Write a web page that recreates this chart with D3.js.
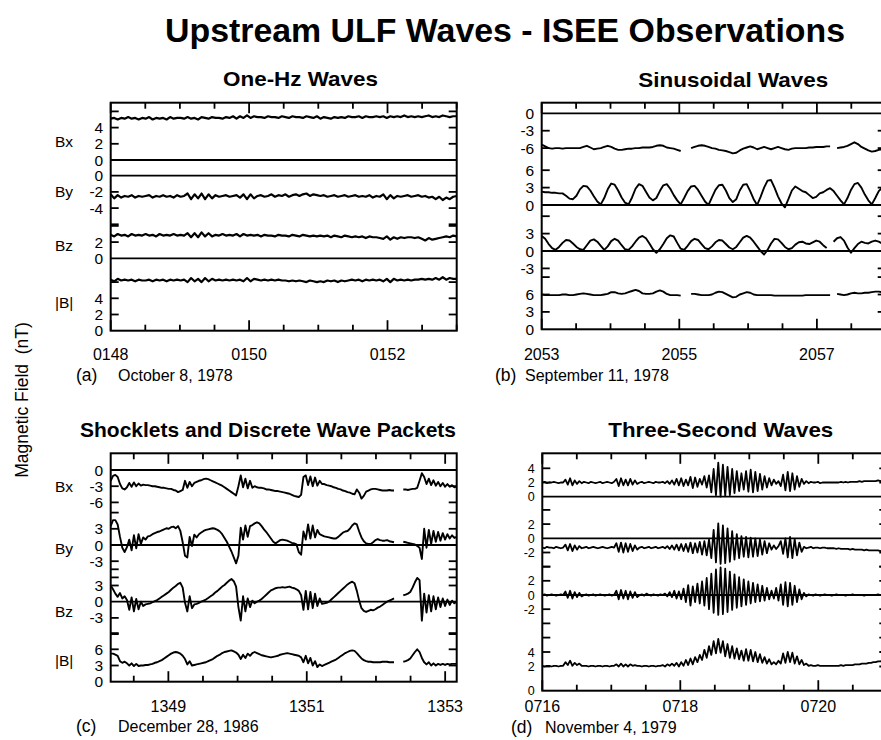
<!DOCTYPE html>
<html>
<head>
<meta charset="utf-8">
<script src="https://cdn.jsdelivr.net/npm/d3@7"></script>
<style>
  body { margin: 0; background: #fff; }
  text { font-family: "Liberation Sans", Arial, Helvetica, sans-serif; fill: #000; }
</style>
</head>
<body>
<svg id="chart" width="881" height="740"></svg>
<script>
// ---------------------------------------------------------------
// Field components plotted in every panel (top to bottom)
// ---------------------------------------------------------------
const components = ["Bx", "By", "Bz", "|B|"];

// ---------------------------------------------------------------
// (a) One-Hz waves, October 8, 1978, 0148-0153 UT (3 s samples)
// ---------------------------------------------------------------
const oneHzTimeTicks = [48, 50, 52];
const oneHzTimeLabels = ["0148", "0150", "0152"];
const oneHzTicks = [[2, 4, 6], [-2, -4, -6], [2, 4], [2, 4, 6]];
const oneHzLabels = [[4, 2, 0], [0, -2, -4], [2, 0], [4, 2, 0]];
const oneHzBx = [5.1,5.2,5.0,5.2,5.1,5.3,5.1,5.2,5.0,5.2, 5.1,5.3,5.0,5.2,5.1,5.2,5.0,5.3,5.1,5.2,
  5.2,5.1,5.3,5.1,5.2,5.0,5.3,5.2,5.1,5.3, 5.2,5.2,5.1,5.3,5.2,5.4,5.1,5.4,5.2,5.5,
  5.2,5.4,5.3,5.3,5.2,5.4,5.3,5.3,5.2,5.4, 5.3,5.2,5.4,5.3,5.3,5.2,5.4,5.3,5.2,5.4,
  5.1,5.3,5.2,5.1,5.3,5.2,5.3,5.2,5.4,5.3, 5.3,5.4,5.2,5.4,5.3,5.3,5.4,5.3,5.4,5.2,
  5.4,5.3,5.4,5.3,5.5,5.3,5.4,5.3,5.4,5.3, 5.4,5.5,5.3,5.4,5.3,5.5,5.4,5.3,5.4,5.4];
const oneHzBy = [-2.3,-2.8,-2.4,-2.7,-2.5,-2.6,-2.4,-2.7,-2.5,-2.6, -2.5,-2.4,-2.7,-2.5,-2.6,-2.4,-2.6,-2.5,-2.7,-2.4,
  -2.6,-2.5,-2.2,-2.9,-2.3,-2.8,-2.2,-2.9,-2.3,-2.8, -2.4,-2.6,-2.5,-2.4,-2.6,-2.5,-2.4,-2.7,-2.3,-2.9,
  -2.3,-2.8,-2.5,-2.4,-2.6,-2.5,-2.3,-2.6,-2.4,-2.5, -2.3,-2.6,-2.4,-2.3,-2.5,-2.3,-2.2,-2.5,-2.3,-2.4,
  -2.5,-2.4,-2.6,-2.5,-2.4,-2.6,-2.5,-2.4,-2.6,-2.5, -2.4,-2.6,-2.5,-2.6,-2.4,-2.7,-2.5,-2.6,-2.3,-2.9,
  -2.4,-2.8,-2.5,-2.6,-2.5,-2.4,-2.6,-2.5,-2.4,-2.6, -2.5,-2.7,-2.6,-2.9,-2.6,-3.0,-2.7,-2.9,-2.6,-2.5];
const oneHzBz = [2.9,2.7,3.0,2.8,2.9,2.7,3.0,2.8,2.9,2.8, 3.0,2.8,2.9,2.7,3.0,2.8,2.9,2.8,3.0,2.8,
  2.9,2.8,3.1,2.6,3.1,2.6,3.2,2.7,3.1,2.7, 2.9,2.8,3.0,2.8,2.9,2.8,3.0,2.7,3.0,2.8,
  2.9,2.8,2.9,2.7,2.9,2.8,2.8,2.7,2.9,2.8, 2.8,2.7,2.9,2.8,2.7,2.9,2.8,2.7,2.8,2.7,
  2.8,2.7,2.8,2.6,2.8,2.7,2.6,2.8,2.7,2.6, 2.7,2.6,2.7,2.5,2.7,2.6,2.6,2.5,2.4,2.7,
  2.3,2.6,2.4,2.6,2.5,2.6,2.6,2.5,2.6,2.4, 2.2,2.5,2.3,2.4,2.5,2.6,2.7,2.6,2.8,2.7];
const oneHzBt = [6.3,6.1,6.4,6.2,6.3,6.2,6.3,6.1,6.3,6.2, 6.2,6.3,6.1,6.3,6.2,6.3,6.1,6.3,6.2,6.3,
  6.2,6.3,6.0,6.5,6.1,6.4,6.0,6.5,6.1,6.4, 6.2,6.3,6.2,6.3,6.2,6.3,6.2,6.3,6.1,6.5,
  6.1,6.4,6.3,6.2,6.3,6.2,6.3,6.2,6.3,6.2, 6.2,6.1,6.2,6.1,6.2,6.1,6.0,6.2,6.1,6.0,
  6.1,6.0,6.2,6.1,6.2,6.0,6.2,6.1,6.2,6.3, 6.2,6.3,6.1,6.3,6.2,6.3,6.2,6.3,6.1,6.4,
  6.0,6.4,6.2,6.3,6.2,6.3,6.2,6.3,6.3,6.4, 6.3,6.4,6.3,6.5,6.3,6.6,6.3,6.5,6.4,6.4];

// ---------------------------------------------------------------
// (b) Sinusoidal waves, September 11, 1978, 2053-2058 UT
// ---------------------------------------------------------------
const sineTimeTicks = [53, 55, 57];
const sineTimeLabels = ["2053", "2055", "2057"];
const sineTicks = [[-3, -6], [3, 6], [6, 3, -3], [3, 6, 9]];
const sineLabels = [[0, -3, -6], [6, 3, 0], [3, 0, -3], [6, 3, 0]];
const sineBx = [-5.4,-5.7,-6.0,-6.1,-6.0,-6.0,-6.1,-6.0,-6.0,-6.0, -6.0,-6.0,-5.8,-5.6,-5.9,-6.2,-6.1,-6.0,-5.8,-5.6,
  -5.8,-6.1,-6.3,-6.3,-6.2,-6.1,-6.1,-6.0,-6.0,-5.9, -5.9,-5.9,-5.8,-5.6,-5.5,-5.6,-5.9,-6.0,-6.1,-6.3,
  -6.5,null,null,-6.0,-5.8,-5.6,-5.5,-5.6,-5.8,-6.0, -6.1,-6.3,-6.4,-6.5,-6.7,-6.9,-6.8,-6.4,-6.1,-5.9,
  -5.7,-5.9,-6.2,-6.0,-5.8,-6.0,-6.2,-6.0,-5.8,-6.0, -6.2,-6.3,-6.1,-6.0,-6.0,-6.0,-6.0,-5.9,-5.9,-5.8,
  -5.8,-5.8,-5.7,-5.7,null,-6.0,-5.9,-5.8,-5.6,-5.3, -5.0,-5.3,-5.8,-6.1,-6.4,-6.6,-6.5,-6.3,-6.2,-6.2];
const sineBy = [2.3,2.2,2.2,2.1,2.1,2.0,2.0,1.6,1.1,1.0, 1.6,2.7,3.3,3.2,2.5,1.5,0.6,0.1,1.2,2.7,
  3.7,3.5,2.5,1.3,0.4,0.1,1.3,2.8,3.6,3.3, 2.3,1.3,0.8,1.2,2.4,3.4,3.6,2.8,1.7,0.8,
  0.1,1.2,2.4,3.2,3.3,2.6,1.6,0.6,0.0,1.3, 2.6,3.4,3.5,2.5,1.2,0.5,1.0,2.5,3.5,3.6,
  2.4,1.0,0.0,1.4,3.0,4.2,4.3,3.0,1.5,0.3, -0.4,1.0,2.5,3.2,2.8,2.4,2.2,1.7,1.2,1.4,
  2.0,2.2,2.6,2.9,2.4,1.6,0.8,0.1,1.2,2.6, 3.6,3.8,3.0,1.8,0.8,0.1,1.2,2.4,3.0,3.3];
const sineBz = [2.6,2.1,1.2,0.5,0.2,0.7,1.4,1.9,1.8,1.3, 0.7,0.3,0.2,1.0,1.8,2.0,1.6,0.9,0.2,0.8,
  1.7,2.1,1.8,1.0,0.3,0.2,0.8,1.6,2.3,2.6, 2.2,1.3,0.3,-0.3,0.3,1.2,2.2,2.7,2.5,1.4,
  0.4,0.2,0.9,1.7,2.1,1.9,1.2,0.5,0.3,0.8, 1.5,1.9,1.8,1.2,0.6,0.3,0.7,1.5,2.3,2.6,
  2.3,1.6,0.8,0.0,-0.6,0.2,1.3,2.1,2.0,1.4, 0.7,0.3,0.5,1.1,1.5,1.6,1.3,1.2,1.5,1.8,
  1.6,1.0,0.5,null,1.6,2.2,2.4,1.8,0.6,-0.3, 0.5,1.2,1.6,1.4,1.3,1.6,1.8,1.6,1.3,1.4];
const sineBt = [6.0,5.9,5.9,5.9,5.9,5.9,6.0,6.0,5.9,5.9, 6.0,6.1,6.2,6.1,6.0,5.9,5.9,5.9,6.0,6.1,
  6.4,6.4,6.2,6.1,6.2,6.4,6.6,6.8,6.6,6.2, 6.1,6.1,6.2,6.5,6.7,6.5,6.1,5.9,5.9,5.9,
  5.8,null,null,6.1,6.1,6.0,5.9,5.9,5.9,6.0, 6.3,6.5,6.4,6.1,5.8,5.5,5.6,6.0,6.2,6.4,
  6.3,6.0,5.9,5.9,5.9,5.9,5.9,5.8,5.8,5.8, 5.8,5.8,5.8,5.8,5.8,5.8,5.9,5.9,5.9,5.9,
  5.9,5.9,5.9,5.9,null,6.1,6.0,5.9,6.0,6.2, 6.3,6.2,6.2,6.3,6.3,6.4,6.5,6.5,6.4,6.4];

// ---------------------------------------------------------------
// (c) Shocklets and discrete wave packets, December 28, 1986,
//     1348:10-1353:10 UT (2 s samples)
// ---------------------------------------------------------------
const shockTimeTicks = [49, 51, 53];
const shockTimeLabels = ["1349", "1351", "1353"];
const shockTicks = [[-3, -6], [6, 3, -3, -6], [6, 3, -3, -6], [3, 6, 9]];
const shockLabels = [[0, -3, -6], [3, 0, -3], [3, 0, -3], [6, 3, 0]];
const shockBx = [-2.0,-1.1,-0.9,-1.3,-2.6,-3.4,-3.6,-3.2,-2.4,-3.1, -2.3,-3.0,-2.5,-2.9,-2.7,-2.8,-2.8,-2.9,-3.0,-3.0,
  -3.1,-3.2,-3.3,-3.3,-3.4,-3.5,-3.5,-3.7,-3.8,-4.1, -3.9,-3.7,-2.0,-3.3,-2.2,-3.0,-2.4,-2.2,-2.0,-1.9,
  -1.7,-1.6,-1.7,-1.9,-2.1,-2.3,-2.5,-2.7,-2.9,-3.2, -3.5,-3.8,-4.1,-4.4,-4.7,-3.0,-1.0,-3.2,-1.6,-3.4,
  -2.0,-3.3,-3.0,-3.2,-3.3,-3.3,-3.4,-3.6,-3.6,-3.7, -3.8,-3.9,-3.9,-4.0,-4.1,-4.2,-4.3,-4.4,-4.6,-4.8,
  -4.9,-5.0,-4.6,-1.3,-1.0,-2.8,-1.2,-3.0,-1.4,-2.9, -2.0,-2.6,-2.6,-2.8,-2.9,-3.0,-3.2,-3.3,-3.5,-3.6,
  -3.8,-3.9,-4.1,-4.2,-4.4,-4.5,-3.6,-4.2,-5.3,-4.8, -4.0,-3.8,-3.6,-3.5,-3.5,-3.6,-3.7,-3.8,-3.8,-3.8,
  -3.7,-3.8,-3.8,null,null,null,-3.6,-3.6,-3.7,-3.6, -3.5,-3.5,-3.3,-2.0,-0.6,-1.3,-2.6,-1.6,-2.8,-1.9,
  -2.9,-2.2,-3.0,-2.4,-3.1,-2.6,-3.1,-2.8,-3.2,-3.0];
const shockBy = [3.5,4.6,4.6,3.8,1.5,-0.5,-1.3,-0.4,1.0,-1.0, 1.8,-0.6,2.0,0.2,1.4,1.0,1.6,1.7,2.0,2.2,
  2.4,2.5,2.7,2.9,3.1,3.0,3.3,3.4,3.1,3.5, 2.6,0.5,-2.0,-2.3,1.5,-0.2,1.9,1.4,2.0,2.3,
  2.6,2.8,2.9,3.0,3.1,3.0,2.8,2.5,2.0,1.3, 0.6,-0.3,-1.2,-2.3,-3.4,-2.0,3.2,1.0,3.6,1.5,
  3.5,3.7,4.0,4.2,4.0,3.5,2.9,2.4,1.8,1.2, 0.6,0.3,0.6,0.9,1.0,0.9,0.8,0.6,0.4,0.3,
  0.1,-1.3,-1.8,2.5,1.0,3.8,1.2,3.6,1.4,2.8, 2.0,1.8,1.6,1.5,1.4,1.3,1.2,1.2,1.5,1.9,
  2.3,2.5,2.6,3.0,3.6,4.0,3.8,2.5,1.4,0.7, 0.3,0.2,0.2,0.5,0.9,1.1,0.9,0.8,0.8,0.9,
  0.7,0.6,0.5,null,null,null,0.6,0.5,0.4,0.3, 0.2,0.1,-0.2,-0.5,-2.6,3.0,-0.5,2.8,0.2,2.6,
  0.6,2.4,0.8,2.2,1.0,2.0,1.2,1.8,1.3,1.5];
const shockBz = [3.0,2.3,1.5,0.9,1.6,0.6,1.0,0.3,-1.5,0.8, -1.8,0.5,-1.4,0.0,-0.8,-0.5,-0.4,-0.3,-0.1,0.1,
  0.3,0.6,0.9,1.2,1.5,1.8,2.2,2.6,2.9,3.3, 3.5,2.6,-0.2,-1.8,1.0,-1.2,-0.5,-0.4,-0.2,0.0,
  0.2,0.4,0.7,1.0,1.3,1.7,2.0,2.4,2.8,3.1, 3.5,3.9,4.2,3.8,2.8,-1.0,-3.5,1.0,-1.8,0.6,
  -1.0,0.2,-0.3,0.0,0.2,0.5,0.9,1.3,1.7,2.1, 2.3,2.5,2.6,2.6,2.7,2.6,2.7,2.8,2.6,2.5,
  2.3,2.0,1.2,-1.5,2.0,-1.4,1.8,-1.2,1.5,-0.8, 0.6,-0.4,-0.3,-0.2,0.0,0.4,0.8,1.2,1.6,2.0,
  2.4,2.8,3.2,3.5,3.7,3.4,2.0,0.2,-1.2,-1.7, -1.9,-1.7,-1.5,-1.6,-1.4,-1.1,-0.9,-0.6,-0.3,0.0,
  0.2,0.4,0.6,null,null,null,1.2,1.3,1.5,1.8, 2.6,3.6,4.4,4.0,-3.5,1.5,-2.0,1.2,-1.8,1.0,
  -1.4,0.8,-1.0,0.6,-0.8,0.4,-0.6,0.2,-0.3,0.0];
const shockBt = [5.2,5.2,5.0,4.8,3.8,3.5,3.7,3.4,3.0,3.4, 2.9,3.3,2.9,3.0,3.0,3.1,3.1,3.2,3.3,3.5,
  3.6,3.8,4.0,4.3,4.6,4.9,5.2,5.4,5.5,5.4, 5.2,4.8,4.2,3.2,3.8,3.0,3.1,3.2,3.3,3.4,
  3.5,3.6,3.8,4.0,4.2,4.5,4.8,5.0,5.3,5.5, 5.6,5.7,5.8,5.6,5.4,5.0,4.2,5.0,4.4,5.2,
  4.8,5.3,5.5,5.3,5.1,4.9,4.8,4.7,4.6,4.5, 4.6,4.7,4.8,5.0,5.1,5.2,5.3,5.2,5.1,5.0,
  4.9,4.8,4.5,3.6,4.8,3.4,4.4,3.0,3.8,2.7, 3.2,2.9,3.1,3.3,3.5,3.7,3.9,4.1,4.4,4.7,
  5.0,5.3,5.5,5.7,5.8,5.7,5.3,4.8,4.3,4.0, 3.8,3.7,3.7,3.6,3.6,3.6,3.6,3.7,3.7,3.7,
  3.6,3.6,3.6,null,null,null,3.7,3.8,4.0,4.3, 4.9,5.5,6.0,5.5,4.4,3.6,3.2,3.6,3.0,3.4,
  3.0,3.3,3.1,3.3,3.1,3.3,3.2,3.3,3.3,3.3];

// ---------------------------------------------------------------
// (d) Three-second waves, November 4, 1979, 0716-0721 UT (2 s samples)
// ---------------------------------------------------------------
const threeSecTimeTicks = [16, 18, 20];
const threeSecTimeLabels = ["0716", "0718", "0720"];
const threeSecTicks = [[2, 4], [4, 2, -2, -4], [4, 2, -2, -4, -6], [2, 4]];
const threeSecLabels = [[4, 2, 0], [2, 0, -2], [2, 0, -2], [4, 2, 0]];
const threeSecBx = [2.0,2.1,1.9,2.0,2.0,2.1,2.0,1.9,2.0,2.0,
  2.4,1.7,2.6,1.6,2.3,1.8,2.2,1.9,
  2.1,2.0,1.9,2.1,2.0,1.9,2.0,2.1,1.9,2.0,2.1,2.0,1.9,2.1,
  2.5,1.5,2.6,1.6,2.4,1.6,2.5,1.7,2.3,1.8,
  2.0,2.1,1.9,2.0,2.1,2.0,1.9,2.1,2.0,2.0,2.1,1.9,2.2,1.8,2.3,
  1.7,2.5,1.6,2.6,1.5,2.4,1.6,2.8,1.2,2.7,1.4,2.5,1.7,2.9,1.3,3.0,
  0.6,3.9,0.2,4.8,0.0,4.5,0.1,4.2,0.2,3.9,0.5,3.6,0.8,3.3,1.0,
  3.6,0.7,3.8,0.6,3.5,0.8,3.2,1.0,2.9,1.3,2.6,
  1.6,2.4,1.8,2.2,
  1.5,3.1,0.9,3.5,0.8,3.3,1.0,2.9,1.4,2.5,
  1.8,2.2,1.9,2.1,2.0,2.0,2.1,1.9,2.0,2.0, 2.0,2.0,2.0,2.0,2.0,2.0,2.1,2.0,2.1,2.0,
  2.1,2.1,2.1,2.1,2.2,2.1,2.2,2.2,2.2,2.2, 2.2,2.2,2.3,2.2,2.3,2.2,2.2];
const threeSecBy = [-1.3,-1.4,-1.2,-1.3,-1.3,-1.4,-1.2,-1.3,-1.4,-1.3,
  -0.9,-1.7,-0.8,-1.8,-1.0,-1.6,-1.1,-1.4,
  -1.3,-1.2,-1.4,-1.3,-1.2,-1.3,-1.4,-1.3,-1.2,-1.3,-1.4,-1.3,-1.2,-1.3,
  -0.7,-1.9,-0.6,-2.0,-0.7,-1.9,-0.8,-1.8,-1.0,-1.6,
  -1.3,-1.2,-1.4,-1.3,-1.2,-1.4,-1.3,-1.2,-1.4,-1.3,-1.2,-1.4,-1.1,-1.5,-1.0,
  -1.6,-0.9,-1.7,-0.8,-1.8,-0.8,-1.9,-0.6,-2.1,-0.7,-2.0,-0.5,-2.3,-0.4,-2.4,-0.2,
  -2.8,1.2,-3.4,2.1,-3.6,1.8,-3.5,1.4,-3.3,1.0,-3.0,0.6,-2.8,0.3,-2.6,
  0.2,-2.7,0.1,-2.6,0.0,-2.5,-0.2,-2.3,-0.4,-2.1,-0.7,
  -1.6,-1.0,-1.5,-1.1,
  -0.4,-2.2,0.0,-2.7,0.2,-2.8,-0.1,-2.4,-0.6,-1.9,
  -1.2,-1.4,-1.3,-1.2,-1.4,-1.3,-1.3,-1.4,-1.3,-1.3, -1.4,-1.4,-1.4,-1.4,-1.5,-1.4,-1.5,-1.5,-1.5,-1.5,
  -1.6,-1.5,-1.6,-1.6,-1.6,-1.6,-1.7,-1.6,-1.7,-1.7, -1.7,-1.7,-1.7,-1.8,-1.7,-1.8,-1.8];
const threeSecBz = [0.0,0.1,-0.1,0.0,0.1,0.0,-0.1,0.0,0.1,0.0,
  0.5,-0.4,0.6,-0.5,0.4,-0.3,0.3,-0.2,
  0.0,0.1,-0.1,0.0,0.1,-0.1,0.0,0.1,0.0,-0.1,0.0,0.1,-0.1,0.0,
  0.6,-0.6,0.7,-0.5,0.6,-0.6,0.5,-0.4,0.4,-0.3,
  0.0,0.1,-0.1,0.2,0.0,-0.1,0.1,0.0,-0.1,0.1,0.0,0.2,-0.2,0.4,-0.3,
  0.6,-0.5,0.5,-0.6,0.9,-1.0,1.4,-1.5,1.2,-1.0,1.6,-1.2,1.9,-1.5,2.4,-2.0,
  3.0,-2.5,3.6,-2.8,3.9,-2.7,3.7,-2.4,3.3,-2.1,2.9,-1.8,2.5,-1.6,2.2,
  -1.4,1.9,-1.2,1.7,-1.0,1.5,-0.9,1.3,-0.8,1.0,-0.6,
  0.6,-0.5,1.0,-0.8,
  1.5,-1.4,1.8,-1.6,1.7,-1.4,1.3,-1.0,0.8,-0.6,
  0.3,-0.2,0.1,0.0,-0.1,0.1,0.0,-0.1,0.0,0.1, 0.0,0.0,-0.1,0.0,0.1,0.0,0.0,0.0,-0.1,0.0,
  0.0,0.1,0.0,0.0,0.0,0.0,-0.1,0.0,0.0,0.0, 0.0,0.0,0.1,0.0,0.0,0.0,0.0];
const threeSecBt = [2.1,2.0,2.1,2.1,2.0,2.1,2.1,2.0,2.1,2.1,
  2.6,2.2,2.8,2.1,2.5,2.2,2.4,2.1,
  2.1,2.1,2.0,2.1,2.1,2.0,2.1,2.1,2.0,2.1,2.1,2.0,2.1,2.1,
  2.3,2.0,2.4,2.0,2.3,2.0,2.3,2.1,2.2,2.1,
  2.1,2.0,2.1,2.1,2.0,2.1,2.1,2.0,2.1,2.1,2.2,2.0,2.3,2.1,2.4,
  2.1,2.5,2.0,2.6,2.1,2.9,2.2,3.1,2.3,3.3,2.6,3.6,2.9,4.3,3.2,4.8,
  3.6,5.5,3.8,5.8,3.9,5.5,3.4,5.1,3.2,4.8,3.1,4.5,3.0,4.2,2.8,
  4.4,2.8,4.3,2.7,4.0,2.6,3.7,2.5,3.3,2.4,3.0,
  2.3,2.6,2.3,2.8,
  2.4,3.8,2.5,4.0,2.6,3.9,2.4,3.4,2.3,2.9,
  2.2,2.4,2.1,2.2,2.1,2.1,2.2,2.1,2.1,2.1, 2.1,2.1,2.1,2.1,2.1,2.1,2.2,2.1,2.2,2.2,
  2.2,2.2,2.3,2.3,2.3,2.4,2.4,2.4,2.5,2.5, 2.6,2.6,2.7,2.7,2.8,2.8,2.8];

// ---------------------------------------------------------------
// Panel layout (pixel geometry and styling)
// ---------------------------------------------------------------
const panels = [
  {
    title: "One-Hz Waves", titleX: 300.5, titleY: 86, titleW: 155,
    left: 110.7, right: 456.7, top: 102.7, bottom: 330.7, t0: 48,
    zeros: [160, 175.7, 258.3, 330.7], k: 8.1,
    series: [oneHzBx, oneHzBy, oneHzBz, oneHzBt],
    ticks: oneHzTicks, labels: oneHzLabels, labelFont: 15.5,
    timeTicks: oneHzTimeTicks, timeLabels: oneHzTimeLabels, xLabelY: 360,
    tag: "(a)", tagX: 76, date: "October 8, 1978", dateX: 118, dateY: 381,
    nameYs: [141.7, 191.7, 245.7, 302], stroke: 2.2
  },
  {
    title: "Sinusoidal Waves", titleX: 733.3, titleY: 87, titleW: 190,
    left: 541.7, right: 885.7, top: 102.7, bottom: 329.3, t0: 53,
    zeros: [113.3, 205, 251, 329.3], k: 5.8,
    series: [sineBx, sineBy, sineBz, sineBt],
    ticks: sineTicks, labels: sineLabels, labelFont: 15.5,
    timeTicks: sineTimeTicks, timeLabels: sineTimeLabels, xLabelY: 360,
    tag: "(b)", tagX: 495, date: "September 11, 1978", dateX: 525, dateY: 381,
    nameYs: null, stroke: 1.9
  },
  {
    title: "Shocklets and Discrete Wave Packets", titleX: 268, titleY: 437, titleW: 376,
    left: 110.7, right: 456.7, top: 453.3, bottom: 681.7, t0: 48 + 10 / 60,
    zeros: [470, 545, 601.7, 681.7], k: 5.4,
    series: [shockBx, shockBy, shockBz, shockBt],
    ticks: shockTicks, labels: shockLabels, labelFont: 15.5,
    timeTicks: shockTimeTicks, timeLabels: shockTimeLabels, xLabelY: 711.5,
    tag: "(c)", tagX: 76, date: "December 28, 1986", dateX: 118, dateY: 732,
    nameYs: [486.7, 548.3, 611.7, 660], stroke: 1.9
  },
  {
    title: "Three-Second Waves", titleX: 720.8, titleY: 437, titleW: 225,
    left: 542.3, right: 887.3, top: 453.3, bottom: 690.7, t0: 16,
    zeros: [496.7, 538.3, 595, 690.7], k: 7.1,
    // |B| uses a broken scale: 0 at the frame bottom, 2 and 4 close together
    custom: { 3: { domain: [0, 2, 4], range: [690.7, 666.5, 652] } },
    series: [threeSecBx, threeSecBy, threeSecBz, threeSecBt],
    ticks: threeSecTicks, labels: threeSecLabels, labelFont: 12.5,
    timeTicks: threeSecTimeTicks, timeLabels: threeSecTimeLabels, xLabelY: 711.5,
    tag: "(d)", tagX: 511, date: "November 4, 1979", dateX: 545, dateY: 733,
    nameYs: null, stroke: 1.8
  }
];

const svg = d3.select("#chart");

// Main title and shared y-axis title
svg.append("text")
  .attr("x", 505).attr("y", 42)
  .attr("text-anchor", "middle")
  .attr("font-size", 34).attr("font-weight", "bold")
  .attr("textLength", 680).attr("lengthAdjust", "spacingAndGlyphs")
  .text("Upstream ULF Waves - ISEE Observations");

svg.append("text")
  .attr("transform", "translate(28,400) rotate(-90)")
  .attr("text-anchor", "middle")
  .attr("font-size", 17.5)
  .attr("xml:space", "preserve")
  .text("Magnetic Field  (nT)");

function drawPanel(p) {
  const g = svg.append("g");
  const x = d3.scaleLinear().domain([p.t0, p.t0 + 5]).range([p.left, p.right]);
  const y = p.zeros.map((z, c) => {
    if (p.custom && p.custom[c]) {
      return d3.scaleLinear().domain(p.custom[c].domain).range(p.custom[c].range);
    }
    return d3.scaleLinear().domain([0, 1]).range([z, z - p.k]);
  });

  // Panel title
  g.append("text")
    .attr("x", p.titleX).attr("y", p.titleY)
    .attr("text-anchor", "middle")
    .attr("font-size", 21).attr("font-weight", "bold")
    .attr("textLength", p.titleW).attr("lengthAdjust", "spacingAndGlyphs")
    .text(p.title);

  // Field traces
  p.series.forEach((vals, c) => {
    const step = 5 / (vals.length - 1);
    const line = d3.line()
      .defined(d => d !== null)
      .x((d, i) => x(p.t0 + i * step))
      .y(d => y[c](d));
    g.append("path")
      .attr("d", line(vals))
      .attr("fill", "none")
      .attr("stroke", "#000")
      .attr("stroke-width", p.stroke)
      .attr("stroke-linejoin", "round");
  });

  // Zero lines for Bx, By, Bz
  [0, 1, 2].forEach(c => {
    g.append("line")
      .attr("x1", p.left).attr("x2", p.right)
      .attr("y1", y[c](0)).attr("y2", y[c](0))
      .attr("stroke", "#000").attr("stroke-width", 1.8);
  });

  // Frame
  g.append("rect")
    .attr("x", p.left).attr("y", p.top)
    .attr("width", p.right - p.left).attr("height", p.bottom - p.top)
    .attr("fill", "none").attr("stroke", "#000").attr("stroke-width", 2);

  // Time ticks: every 30 s, longer at the labelled minutes
  const minorTicks = d3.range(Math.ceil(p.t0 * 2) / 2, p.t0 + 5 + 1e-6, 0.5);
  minorTicks.forEach(t => {
    const major = p.timeTicks.some(m => Math.abs(m - t) < 1e-6);
    const len = major ? 10.5 : 6;
    const xp = x(t);
    g.append("line").attr("x1", xp).attr("x2", xp)
      .attr("y1", p.top).attr("y2", p.top + len)
      .attr("stroke", "#000").attr("stroke-width", 1.8);
    g.append("line").attr("x1", xp).attr("x2", xp)
      .attr("y1", p.bottom).attr("y2", p.bottom - len)
      .attr("stroke", "#000").attr("stroke-width", 1.8);
  });
  p.timeTicks.forEach((t, j) => {
    g.append("text")
      .attr("x", x(t)).attr("y", p.xLabelY)
      .attr("text-anchor", "middle")
      .attr("font-size", 16)
      .text(p.timeLabels[j]);
  });

  // Field ticks on both vertical edges and value labels on the left
  p.ticks.forEach((vals, c) => {
    vals.forEach(v => {
      const yp = y[c](v);
      g.append("line").attr("x1", p.left).attr("x2", p.left + 8)
        .attr("y1", yp).attr("y2", yp)
        .attr("stroke", "#000").attr("stroke-width", 1.8);
      g.append("line").attr("x1", p.right - 8).attr("x2", p.right)
        .attr("y1", yp).attr("y2", yp)
        .attr("stroke", "#000").attr("stroke-width", 1.8);
    });
  });
  p.labels.forEach((vals, c) => {
    vals.forEach(v => {
      g.append("text")
        .attr("x", p.left - 7.5).attr("y", y[c](v))
        .attr("dy", "0.36em")
        .attr("text-anchor", "end")
        .attr("font-size", p.labelFont)
        .text(String(v));
    });
  });

  // Component names
  if (p.nameYs) {
    components.forEach((name, c) => {
      g.append("text")
        .attr("x", 55).attr("y", p.nameYs[c])
        .attr("dy", "0.36em")
        .attr("font-size", 15.5)
        .text(name);
    });
  }

  // Event tag and date
  g.append("text").attr("x", p.tagX).attr("y", p.dateY)
    .attr("font-size", 17.5).text(p.tag);
  g.append("text").attr("x", p.dateX).attr("y", p.dateY)
    .attr("font-size", 16).text(p.date);
}

panels.forEach(drawPanel);
</script>
</body>
</html>
